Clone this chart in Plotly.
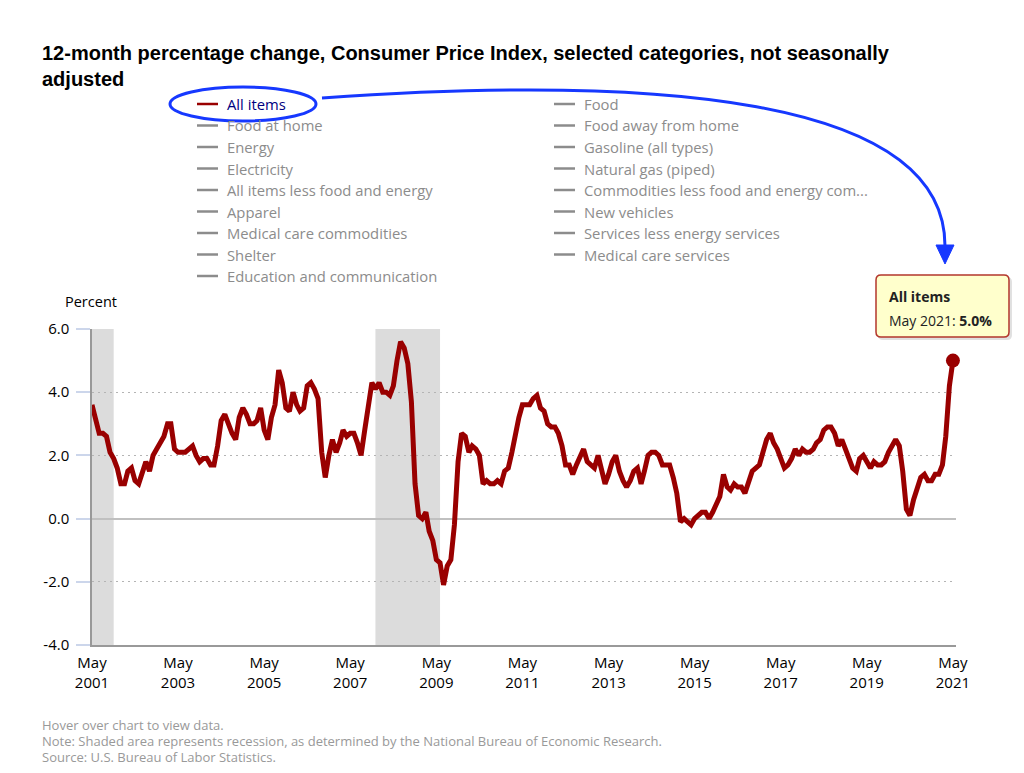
import plotly.graph_objects as go
import pandas as pd

# 12-month % change, CPI-U all items, May 2001 .. May 2021
start_month = "2001-05-01"
all_items = [
    3.6, 3.2, 2.7, 2.7, 2.6, 2.1, 1.9, 1.6,
    1.1, 1.1, 1.5, 1.6, 1.2, 1.1, 1.5, 1.8, 1.5, 2.0, 2.2, 2.4,
    2.6, 3.0, 3.0, 2.2, 2.1, 2.1, 2.1, 2.2, 2.3, 2.0, 1.8, 1.9,
    1.9, 1.7, 1.7, 2.3, 3.1, 3.3, 3.0, 2.7, 2.5, 3.2, 3.5, 3.3,
    3.0, 3.0, 3.1, 3.5, 2.8, 2.5, 3.2, 3.6, 4.7, 4.3, 3.5, 3.4,
    4.0, 3.6, 3.4, 3.5, 4.2, 4.3, 4.1, 3.8, 2.1, 1.3, 2.0, 2.5,
    2.1, 2.4, 2.8, 2.6, 2.7, 2.7, 2.4, 2.0, 2.8, 3.5, 4.3, 4.1,
    4.3, 4.0, 4.0, 3.9, 4.2, 5.0, 5.6, 5.4, 4.9, 3.7, 1.1, 0.1,
    0.0, 0.2, -0.4, -0.7, -1.3, -1.4, -2.1, -1.5, -1.3, -0.2, 1.8, 2.7,
    2.6, 2.1, 2.3, 2.2, 2.0, 1.1, 1.2, 1.1, 1.1, 1.2, 1.1, 1.5,
    1.6, 2.1, 2.7, 3.2, 3.6, 3.6, 3.6, 3.8, 3.9, 3.5, 3.4, 3.0,
    2.9, 2.9, 2.7, 2.3, 1.7, 1.7, 1.4, 1.7, 2.0, 2.2, 1.8, 1.7,
    1.6, 2.0, 1.5, 1.1, 1.4, 1.8, 2.0, 1.5, 1.2, 1.0, 1.2, 1.5,
    1.6, 1.1, 1.5, 2.0, 2.1, 2.1, 2.0, 1.7, 1.7, 1.7, 1.3, 0.8,
    -0.1, 0.0, -0.1, -0.2, 0.0, 0.1, 0.2, 0.2, 0.0, 0.2, 0.5, 0.7,
    1.4, 1.0, 0.9, 1.1, 1.0, 1.0, 0.8, 1.1, 1.5, 1.6, 1.7, 2.1,
    2.5, 2.7, 2.4, 2.2, 1.9, 1.6, 1.7, 1.9, 2.2, 2.0, 2.2, 2.1,
    2.1, 2.2, 2.4, 2.5, 2.8, 2.9, 2.9, 2.7, 2.3, 2.5, 2.2, 1.9,
    1.6, 1.5, 1.9, 2.0, 1.8, 1.6, 1.8, 1.7, 1.7, 1.8, 2.1, 2.3,
    2.5, 2.3, 1.5, 0.3, 0.1, 0.6, 1.0, 1.3, 1.4, 1.2, 1.2, 1.4,
    1.4, 1.7, 2.6, 4.2, 5.0,
]

recessions = [("2001-03-01", "2001-11-01"), ("2007-12-01", "2009-06-01")]

legend_left = ["All items", "Food at home", "Energy", "Electricity",
               "All items less food and energy", "Apparel",
               "Medical care commodities", "Shelter",
               "Education and communication"]
legend_right = ["Food", "Food away from home", "Gasoline (all types)",
                "Natural gas (piped)",
                "Commodities less food and energy com...", "New vehicles",
                "Services less energy services", "Medical care services"]

y_ticks = [-4, -2, 0, 2, 4, 6]

title = ("12-month percentage change, Consumer Price Index, selected categories, not seasonally"
         "<br>adjusted")
notes = ["Hover over chart to view data.",
         "Note: Shaded area represents recession, as determined by the National Bureau of Economic Research.",
         "Source: U.S. Bureau of Labor Statistics."]

months = pd.date_range(start_month, periods=len(all_items), freq="MS")

# page body has an 8px margin, so the figure sits at (8, 8)
O = 8
W, H = 1024 - O, 773 - O
L, R, T, B = 92, 956, 329, 645


def px(x):
    return (x - L) / (R - L)


def py(y):
    return (B - y) / (B - T)


def pt(x, y):
    return "{:.5f},{:.5f}".format(px(x), py(y))


RED = "#990000"
BLUE = "#1638ff"
GREY = "#8c8c8c"
FONT = "Open Sans"

fig = go.Figure()
fig.add_trace(go.Scatter(x=months, y=all_items, mode="lines", name="All items",
                         line=dict(color=RED, width=5), cliponaxis=False,
                         hoverinfo="skip"))
fig.add_trace(go.Scatter(x=[months[-1]], y=[all_items[-1]], mode="markers",
                         marker=dict(color=RED, size=14), cliponaxis=False,
                         hoverinfo="skip"))

shapes = []
annotations = []

for x0, x1 in recessions:
    shapes.append(dict(type="rect", xref="x", yref="paper", x0=x0, x1=x1, y0=0, y1=1,
                       fillcolor="#dcdcdc", line_width=0, layer="below"))

# legend (two columns)
rows_y = [104 + 21.5 * i for i in range(9)]
for col_x, labels in [(197, legend_left), (554, legend_right)]:
    for i, lab in enumerate(labels):
        active = lab == "All items" and col_x == 197
        shapes.append(dict(type="line", xref="paper", yref="paper",
                           x0=px(col_x), x1=px(col_x + 21), y0=py(rows_y[i]), y1=py(rows_y[i]),
                           line=dict(color=RED if active else GREY, width=2.5)))
        annotations.append(dict(x=px(col_x + 28), y=py(rows_y[i]), xref="paper", yref="paper",
                                text=lab, showarrow=False, xanchor="left", yanchor="middle",
                                font=dict(family=FONT, size=14.8,
                                          color="#000080" if active else GREY)))

# blue highlight: ellipse + curved arrow
shapes.append(dict(type="circle", xref="paper", yref="paper",
                   x0=px(170), x1=px(316), y0=py(121), y1=py(87),
                   line=dict(color=BLUE, width=3)))
shapes.append(dict(type="path", xref="paper", yref="paper",
                   path="M {} C {} {} {}".format(pt(322, 98), pt(650, 75), pt(945, 95), pt(945, 246)),
                   line=dict(color=BLUE, width=3)))
shapes.append(dict(type="path", xref="paper", yref="paper",
                   path="M {} L {} L {} Z".format(pt(936, 245), pt(954, 245), pt(945, 264)),
                   fillcolor=BLUE, line=dict(color=BLUE, width=1)))

# tooltip box (rounded, with a soft shadow)
def rounded(x0, y0, x1, y1, r):
    return ("M {} L {} Q {} {} L {} Q {} {} L {} Q {} {} L {} Q {} {} Z".format(
        pt(x0 + r, y0), pt(x1 - r, y0), pt(x1, y0), pt(x1, y0 + r),
        pt(x1, y1 - r), pt(x1, y1), pt(x1 - r, y1),
        pt(x0 + r, y1), pt(x0, y1), pt(x0, y1 - r),
        pt(x0, y0 + r), pt(x0, y0), pt(x0 + r, y0)))


shapes.append(dict(type="path", xref="paper", yref="paper", path=rounded(878, 277, 1012, 340, 5),
                   fillcolor="rgba(0,0,0,0.12)", line_width=0))
shapes.append(dict(type="path", xref="paper", yref="paper", path=rounded(876, 275, 1009, 337, 5),
                   fillcolor="#ffffcc", line=dict(color="#b3372c", width=1.5)))
last = months[-1]
annotations.append(dict(x=px(887), y=py(296), xref="paper", yref="paper",
                        xanchor="left", yanchor="middle", showarrow=False,
                        text="<b>All items</b>",
                        font=dict(family=FONT, size=14, color="#222")))
annotations.append(dict(x=px(887), y=py(320), xref="paper", yref="paper",
                        xanchor="left", yanchor="middle", showarrow=False,
                        text="{}: <b>{:.1f}%</b>".format(last.strftime("%b %Y"), all_items[-1]),
                        font=dict(family=FONT, size=14, color="#222")))

annotations.append(dict(x=px(40), y=py(40), xref="paper", yref="paper",
                        xanchor="left", yanchor="top", align="left", showarrow=False,
                        text="<b>" + title + "</b>",
                        font=dict(family="Liberation Sans", size=20, color="#000")))
annotations.append(dict(x=px(63), y=py(301), xref="paper", yref="paper",
                        xanchor="left", yanchor="middle", showarrow=False,
                        text="Percent", font=dict(family=FONT, size=14.5, color="#000")))
for i, note in enumerate(notes):
    annotations.append(dict(x=px(40), y=py(725 + 16 * i), xref="paper", yref="paper",
                            xanchor="left", yanchor="middle", showarrow=False,
                            text=note, font=dict(family=FONT, size=13, color="#999")))

tick_months = months[::24]
fig.update_layout(
    width=W, height=H,
    margin=dict(l=L - O, r=1024 - R, t=T - O, b=773 - B),
    paper_bgcolor="white", plot_bgcolor="white",
    showlegend=False,
    font=dict(family=FONT, color="#000"),
    shapes=shapes,
    annotations=annotations,
    xaxis=dict(type="date", range=[months[0], "2021-05-27"], showgrid=False,
               showline=True, linecolor="#999", linewidth=2, ticks="",
               tickvals=list(tick_months),
               ticktext=["May<br>{}".format(m.year) for m in tick_months],
               ticklabelstandoff=3,
               tickfont=dict(size=15, color="#000")),
    yaxis=dict(range=[y_ticks[0], y_ticks[-1]], tickvals=y_ticks,
               ticktext=["{:.1f}".format(v) for v in y_ticks],
               showgrid=True, gridcolor="#b4b4b4", griddash="1.5px,4.5px", gridwidth=1,
               zeroline=True, zerolinecolor="#c0c0c0", zerolinewidth=1.5,
               showline=True, linecolor="#999", linewidth=1.5,
               ticks="outside", ticklen=14, tickcolor="#ccd6eb", tickwidth=1.5,
               ticklabelstandoff=4,
               tickfont=dict(size=15, color="#000")),
)

fig.write_html("out.html")
